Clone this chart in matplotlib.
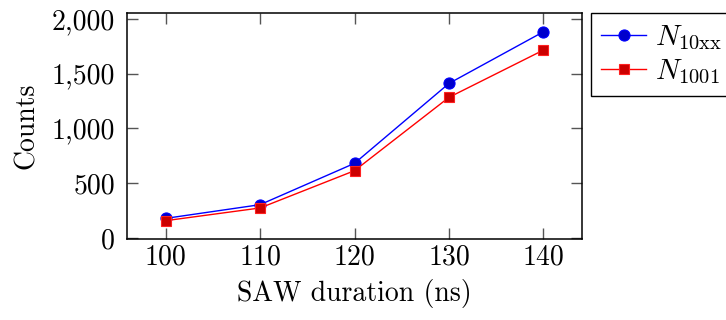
import matplotlib
matplotlib.use("Agg")
import matplotlib.pyplot as plt
from matplotlib.ticker import FuncFormatter

durations = [100, 110, 120, 130, 140]
n_10xx = [179, 304, 681, 1410, 1881]
n_1001 = [158, 274, 614, 1283, 1714]
x_ticks = [100, 110, 120, 130, 140]
y_ticks = [0, 500, 1000, 1500, 2000]

plt.rcParams['font.family'] = ['cmr10', 'DejaVu Serif']
plt.rcParams['mathtext.fontset'] = 'cm'
plt.rcParams['axes.unicode_minus'] = False

fig = plt.figure(figsize=(7.26, 3.2), dpi=100)
ax = fig.add_axes([127.3/726, 1-239/320, (581.7-127.3)/726, (239-12.7)/320])

ax.plot(durations, n_10xx, color='#0000ff', lw=1.0, marker='o', ms=8,
        mfc='#0000cc', mec='#0000ff', mew=0.8, label=r'$N_{10\mathrm{xx}}$')
ax.plot(durations, n_1001, color='#ff0000', lw=1.0, marker='s', ms=7.5,
        mfc='#cc0000', mec='#ff2020', mew=0.8, label=r'$N_{1001}$')

ax.set_xlim(95.95, 144.05)
ax.set_ylim(-9, 2055)
ax.set_xticks(x_ticks)
ax.set_yticks(y_ticks)
ax.yaxis.set_major_formatter(FuncFormatter(lambda v, p: f"{int(v):,}"))
ax.tick_params(direction='in', length=8, width=1.0, color='#555555',
               top=True, right=True, labelsize=20)
ax.tick_params(axis='x', pad=4)
ax.tick_params(axis='y', pad=9)
for s in ax.spines.values():
    s.set_linewidth(1.1)

ax.set_xlabel('SAW duration (ns)', fontsize=20, labelpad=6)
ax.set_ylabel('Counts', fontsize=20, labelpad=8)

leg = fig.legend(loc='upper left', bbox_to_anchor=(591/726, 1-13.3/320),
                 fontsize=21, frameon=True, fancybox=False, edgecolor='black',
                 framealpha=1, borderpad=0.35, handlelength=1.55,
                 handletextpad=0.3, labelspacing=0.2, borderaxespad=0)
leg.get_frame().set_linewidth(1.0)

fig.savefig('out.png', dpi=100)
